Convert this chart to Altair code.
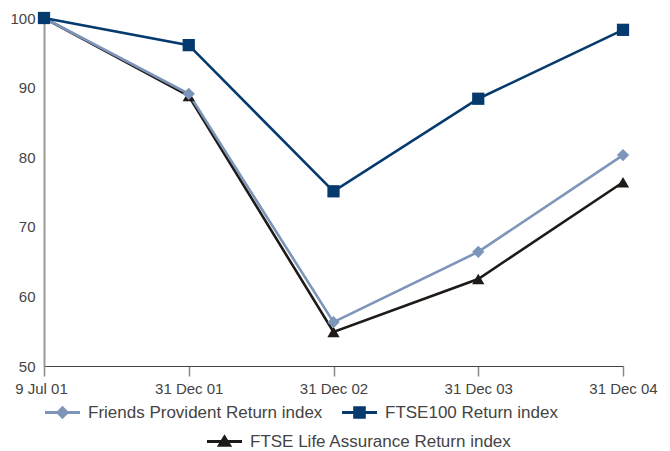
import altair as alt
import pandas as pd

dates = ["9 Jul 01", "31 Dec 01", "31 Dec 02", "31 Dec 03", "31 Dec 04"]
series_names = ["FTSE Life Assurance Return index", "Friends Provident Return index", "FTSE100 Return index"]
friends = [100, 89.1, 56.3, 66.4, 80.3]
ftse100 = [100, 96.1, 75.1, 88.4, 98.3]
life = [100, 88.8, 54.9, 62.5, 76.4]
colors = ["#1e1a18", "#7d95b9", "#053a6e"]
shapes = ["triangle-up", "diamond", "square"]

rows = []
for name, vals in zip(series_names, [life, friends, ftse100]):
    for d, v in zip(dates, vals):
        rows.append({"date": d, "value": v, "series": name})
df = pd.DataFrame(rows)

FONT = "Liberation Sans"

x = alt.X("date:O", sort=dates, scale=alt.Scale(type="point", padding=0),
          axis=alt.Axis(title=None, labelAngle=0, labelFont=FONT, labelFontSize=15,
                        labelColor="#444444", domainColor="#444444", domainWidth=1.2,
                        tickColor="#888888", tickWidth=1.5, tickSize=10, labelPadding=5,
                        labelOffset={"condition": [{"test": "datum.value == '9 Jul 01'", "value": -3}],
                                     "value": 0}))
y = alt.Y("value:Q", scale=alt.Scale(domain=[50, 100], nice=False, zero=False),
          axis=alt.Axis(title=None, values=[50, 60, 70, 80, 90, 100], ticks=False, grid=False,
                        labelFont=FONT, labelFontSize=15, labelColor="#444444", labelPadding=9,
                        domainColor="#999999", domainWidth=2))

color = alt.Color("series:N", scale=alt.Scale(domain=series_names, range=colors), legend=None)
shape = alt.Shape("series:N", scale=alt.Scale(domain=series_names, range=shapes), legend=None)

base = alt.Chart(df)
lines = base.mark_line(strokeWidth=2.6).encode(x=x, y=y, color=color)
points = base.mark_point(filled=True, size=150, opacity=1).encode(x=x, y=y, color=color, shape=shape)

line_rect = "M-1,-0.085H1V0.085H-1Z"
legend_paths = {
    "Friends Provident Return index": line_rect + "M0,-0.38L0.38,0L0,0.38L-0.38,0Z",
    "FTSE100 Return index": line_rect + "M-0.36,-0.36H0.36V0.36H-0.36Z",
    "FTSE Life Assurance Return index": line_rect + "M0,-0.42L0.44,0.3L-0.44,0.3Z",
}
legend_pos = {
    "Friends Provident Return index": (1, 377),
    "FTSE100 Return index": (298, 377),
    "FTSE Life Assurance Return index": (163, 406),
}

legend_layers = []
for name, col in zip(series_names, colors):
    lx, ly = legend_pos[name]
    lg = alt.Legend(title=None, orient="none", legendX=lx, legendY=ly, padding=0,
                    symbolSize=1225, symbolOpacity=1, symbolFillColor=col, symbolStrokeWidth=0,
                    labelFont=FONT, labelFontSize=17, labelColor="#444444", labelOffset=8,
                    labelLimit=400)
    layer = base.transform_filter(alt.datum.series == name).mark_point(
        filled=True, opacity=0, size=10).encode(
        x=x, y=y,
        color=alt.Color("series:N", scale=alt.Scale(domain=[name], range=[col]), legend=lg),
        shape=alt.Shape("series:N", scale=alt.Scale(domain=[name], range=[legend_paths[name]]), legend=lg),
    )
    legend_layers.append(layer)

chart = alt.layer(lines, points, *legend_layers).resolve_scale(
    color="independent", shape="independent"
).properties(
    width=579, height=348,
    padding={"left": 44, "top": 18, "right": 47, "bottom": 85},
    autosize="none",
    background="white",
).configure_view(stroke=None)

chart.save("out.html", embed_options={"renderer": "svg", "actions": False})
